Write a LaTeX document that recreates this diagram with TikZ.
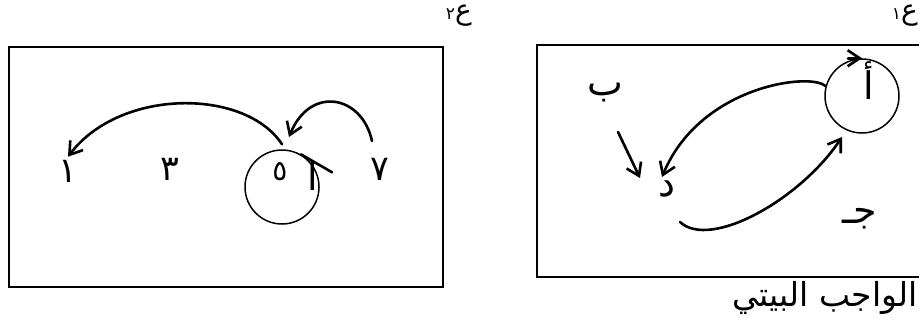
\documentclass[tikz,border=0pt]{standalone}
\usepackage{fontspec}
\usetikzlibrary{arrows.meta}
\newfontfamily\arabicfont[Script=Arabic]{DejaVu Sans}
\TeXXeTstate=1
\newcommand{\artext}[1]{\arabicfont\beginR #1\endR}

\begin{document}
\begin{tikzpicture}[x=1pt, y=-1pt, >={Straight Barb[length=12pt,width=16pt]},
    box/.style={line width=1.5pt},
    curve/.style={line width=2.6pt, line cap=round},
    ring/.style={draw, circle, line width=1.5pt, minimum size=74pt, inner sep=0pt},
    lbl/.style={inner sep=0pt, font=\fontsize{38}{40}\selectfont},
    digit/.style={inner sep=0pt, font=\fontsize{35}{37}\selectfont},
    tag/.style={inner sep=0pt, font=\fontsize{28}{30}\selectfont}]
    \useasboundingbox (0,0) rectangle (919,324);
    \clip (0,0) rectangle (919,324);

    % first panel: the digits and the ring
    \draw[box] (9,47) rectangle (443,287);
    \node[tag, anchor=east] (tagL) at (472,16) {\artext{ع{\fontsize{17}{18}\selectfont ٢}}};
    \node[ring] (ringL) at (282,187) {};
    \node[digit] (one) at (68,171) {\artext{١}};
    \node[digit] (three) at (170,169) {\artext{٣}};
    \node[digit, font=\fontsize{28}{30}\selectfont] (five) at (280,172) {\artext{٥}};
    \node[digit] (seven) at (380,169) {\artext{٧}};
    \node[lbl] (alefL) at (313,176) {\artext{ا}};
    \coordinate (sevenTop) at (372,141);
    \coordinate (ringLTop) at (289,137);
    \draw[curve] (ringL.60) -- ++(-30:36pt);
    \draw[curve,->] ([yshift=5pt]ringL.north) .. controls (245,88) and (120,88) .. ([yshift=3pt]one.north);
    \draw[curve,->] (sevenTop) .. controls (362,95) and (310,85) .. (ringLTop);

    % second panel
    \draw[box] (537,45) rectangle (940,277);
    \node[tag, anchor=east] (tagR) at (918,16) {\artext{ع{\fontsize{17}{18}\selectfont ١}}};
    \node[ring] (ringR) at (862,96) {};
    \node[lbl] (alefR) at (869,81) {\artext{أ}};
    \node[lbl] (beh) at (605,93) {\artext{ب}};
    \node[lbl] (dal) at (667,189) {\artext{د}};
    \node[lbl] (jeem) at (860,219) {\artext{جـ}};
    \coordinate (behTail) at (618,132);
    \coordinate (dalTop) at (662,177);
    \coordinate (lowStart) at (680,222);
    \coordinate (ringRLow) at (842,137);
    \draw[curve,->] ([xshift=-14pt]ringR.north) -- (ringR.north);
    \draw[curve,->] (ringR.165) .. controls (812,72) and (700,85) .. (dalTop);
    \draw[curve,->] (lowStart) .. controls (710,250) and (800,200) .. (ringRLow);
    \draw[curve,->] (behTail) -- (640,178);

    \node[lbl, anchor=base east, font=\fontsize{33}{35}\selectfont] (homework) at (918,306) {\artext{الواجب البيتي}};
\end{tikzpicture}
\end{document}
